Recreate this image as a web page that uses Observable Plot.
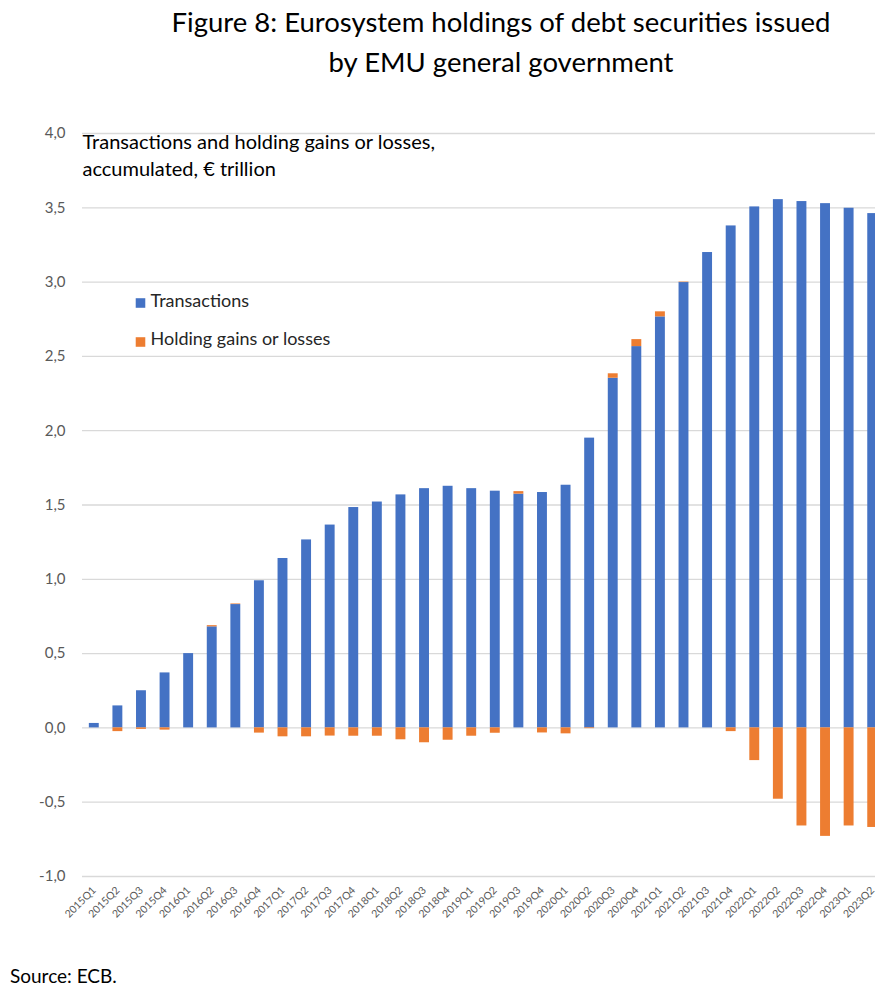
<!DOCTYPE html>
<html>
<head>
<meta charset="utf-8">
<script src="https://cdn.jsdelivr.net/npm/d3@7"></script>
<script src="https://cdn.jsdelivr.net/npm/@observablehq/plot@0.6"></script>
<style>
  html, body { margin: 0; padding: 0; overflow: hidden; background: #fff; }
  #wrap { position: relative; width: 875px; height: 986px; overflow: hidden; font-family: Lato, "Open Sans", sans-serif; }
  #title { position: absolute; left: 127px; width: 748px; top: 2px; text-align: center; font-size: 27.5px; line-height: 40px; color: #000; }
  #chart { position: absolute; left: 0; top: 100px; width: 884px; }
  #chart svg { max-width: none !important; }
  #source { position: absolute; left: 10px; top: 964px; font-size: 19px; line-height: 24px; color: #000; }
</style>
</head>
<body>
<div id="wrap">
  <div id="title">Figure 8: Eurosystem holdings of debt securities issued<br>by EMU general government</div>
  <div id="chart"></div>
  <div id="source">Source: ECB.</div>
</div>
<script>
const quarters = [
  "2015Q1","2015Q2","2015Q3","2015Q4","2016Q1","2016Q2","2016Q3","2016Q4",
  "2017Q1","2017Q2","2017Q3","2017Q4","2018Q1","2018Q2","2018Q3","2018Q4",
  "2019Q1","2019Q2","2019Q3","2019Q4","2020Q1","2020Q2","2020Q3","2020Q4",
  "2021Q1","2021Q2","2021Q3","2021Q4","2022Q1","2022Q2","2022Q3","2022Q4",
  "2023Q1","2023Q2"
];
const transactions = [
  0.03, 0.148, 0.25, 0.37, 0.50, 0.68, 0.83, 0.99,
  1.14, 1.265, 1.365, 1.483, 1.52, 1.568, 1.61, 1.626,
  1.61, 1.593, 1.573, 1.584, 1.633, 1.95, 2.353, 2.566,
  2.766, 2.997, 3.199, 3.378, 3.506, 3.555, 3.542, 3.528,
  3.497, 3.461
];
const holdingGains = [
  0.0, -0.025, -0.01, -0.015, 0.0, 0.008, 0.004, -0.035,
  -0.06, -0.06, -0.055, -0.056, -0.056, -0.08, -0.10, -0.083,
  -0.056, -0.036, 0.017, -0.034, -0.04, -0.005, 0.03, 0.047,
  0.034, 0.003, 0.0, -0.025, -0.22, -0.48, -0.66, -0.73,
  -0.66, -0.67
];
const seriesNames = ["Transactions", "Holding gains or losses"];
const seriesColors = ["#4472C4", "#ED7D31"];
const yTicks = [-1, -0.5, 0, 0.5, 1, 1.5, 2, 2.5, 3, 3.5, 4];
const annotationLines = ["Transactions and holding gains or losses,", "accumulated, € trillion"];

const data = [];
quarters.forEach((q, i) => {
  data.push({quarter: q, series: seriesNames[0], value: transactions[i]});
  data.push({quarter: q, series: seriesNames[1], value: holdingGains[i]});
});

const fmt = d => d.toFixed(1).replace(".", ",");

const chart = Plot.plot({
  width: 884,
  height: 816,
  marginLeft: 82,
  marginRight: 0,
  marginTop: 33,
  marginBottom: 40,
  style: {fontFamily: "Lato, 'Open Sans', sans-serif", background: "#fff", overflow: "visible", maxWidth: "none"},
  x: {type: "band", domain: quarters, paddingInner: 0.58, paddingOuter: 0.29, round: false, axis: null},
  y: {domain: [-1, 4], axis: null},
  color: {domain: seriesNames, range: seriesColors},
  marks: [
    Plot.gridY(yTicks, {stroke: "#d9d9d9", strokeOpacity: 1, strokeWidth: 1.3}),
    Plot.barY(data, {x: "quarter", y: "value", fill: "series", order: seriesNames}),
    Plot.axisY(yTicks, {tickSize: 0, tickPadding: 17, tickFormat: fmt, fontSize: 15, fill: "#595959", label: null}),
    Plot.axisX({tickSize: 0, tickPadding: 12, tickRotate: -45, fontSize: 10.5, fill: "#595959", label: null}),
    Plot.text([annotationLines[0]], {text: d => d, frameAnchor: "top-left", textAnchor: "start", lineAnchor: "middle", dy: 9, fontSize: 20, fill: "#000"}),
    Plot.text([annotationLines[1]], {text: d => d, frameAnchor: "top-left", textAnchor: "start", lineAnchor: "middle", dy: 36, fontSize: 20, fill: "#000"}),
    Plot.dot([seriesNames[0]], {frameAnchor: "top-left", dx: 58, dy: 169.5, symbol: "square", r: 5.4, fill: seriesColors[0], stroke: "none"}),
    Plot.dot([seriesNames[1]], {frameAnchor: "top-left", dx: 58, dy: 208.5, symbol: "square", r: 5.4, fill: seriesColors[1], stroke: "none"}),
    Plot.text([seriesNames[0]], {text: d => d, frameAnchor: "top-left", textAnchor: "start", lineAnchor: "middle", dx: 68, dy: 168, fontSize: 18, fill: "#262626"}),
    Plot.text([seriesNames[1]], {text: d => d, frameAnchor: "top-left", textAnchor: "start", lineAnchor: "middle", dx: 68, dy: 206, fontSize: 18, fill: "#262626"})
  ]
});
document.getElementById("chart").appendChild(chart);
</script>
</body>
</html>
